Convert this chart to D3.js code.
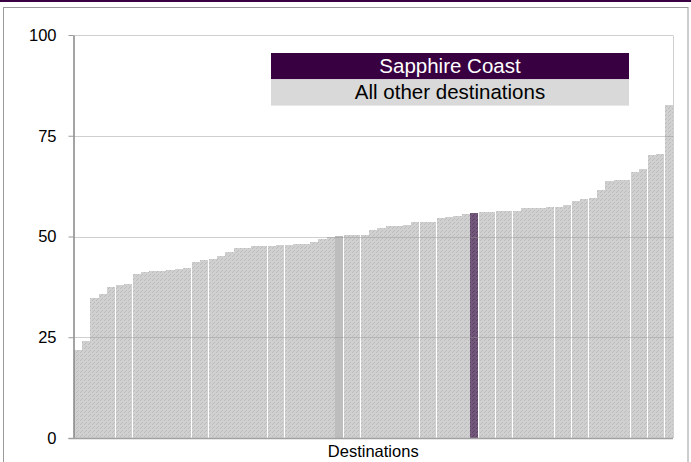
<!DOCTYPE html>
<html>
<head>
<meta charset="utf-8">
<script src="https://cdn.jsdelivr.net/npm/d3@7/dist/d3.min.js"></script>
<style>
  html, body { margin: 0; padding: 0; background: #fff; }
  svg { display: block; font-family: "Liberation Sans", Arial, sans-serif; }
</style>
</head>
<body>
<svg id="chart" width="691" height="462"></svg>
<script>
// ---- data ----
const values = [21.8,24.1,34.7,35.7,37.4,37.9,38.2,40.7,41.1,41.4,41.4,41.7,41.9,42.2,43.7,44.2,
  44.4,45.2,46.2,47.1,47.1,47.6,47.6,47.6,47.9,47.9,48.1,48.1,48.6,49.4,49.9,
  50.2,50.4,50.4,50.4,51.6,52.1,52.6,52.6,52.9,53.6,53.6,53.6,54.6,54.8,55.1,55.6,55.8,
  56.1,56.1,56.3,56.3,56.3,57.1,57.1,57.1,57.3,57.3,57.8,58.8,59.3,59.6,61.5,63.8,64.0,64.0,66.0,66.7,70.2,70.5,82.6];
const categories = values.map((v, i) => "Destination " + (i + 1));
const highlightCategory = "Destination 48";   // Sapphire Coast
const altCategory = "Destination 32";
const yTicks = [0, 25, 50, 75, 100];
const legendLabels = ["Sapphire Coast", "All other destinations"];
const xAxisTitle = "Destinations";

// ---- layout ----
const svg = d3.select("#chart");
const plot = { left: 73.5, right: 673, top: 35, bottom: 438 };

const x = d3.scaleBand().domain(categories).range([plot.left, plot.right]).padding(0);
const y = d3.scaleLinear().domain([0, 100]).range([plot.bottom, plot.top]);

// patterns
const defs = svg.append("defs");
function dotPattern(id, base, dot) {
  const p = defs.append("pattern").attr("id", id).attr("patternUnits", "userSpaceOnUse")
    .attr("width", 4).attr("height", 4);
  p.append("rect").attr("width", 4).attr("height", 4).attr("fill", base);
  p.append("rect").attr("x", 0).attr("y", 0).attr("width", 1).attr("height", 1).attr("fill", dot);
  p.append("rect").attr("x", 2).attr("y", 2).attr("width", 1).attr("height", 1).attr("fill", dot);
  p.append("rect").attr("x", 1).attr("y", 3).attr("width", 1).attr("height", 1).attr("fill", dot);
}
dotPattern("grayDots", "#d0d0d0", "#bcbcbc");
dotPattern("purpleDots", "#72587a", "#5c3f62");

// outer frame
svg.append("rect").attr("x", 0).attr("y", 0).attr("width", 691).attr("height", 2).attr("fill", "#380040");
svg.append("rect").attr("x", 3.5).attr("y", 7.5).attr("width", 684.5).attr("height", 470)
  .attr("fill", "none").attr("stroke", "#9a9a9a");

// bars
svg.append("g").selectAll("rect").data(values).join("rect")
  .attr("x", (d, i) => x(categories[i]))
  .attr("width", x.bandwidth() - 0.3)
  .attr("y", d => y(d))
  .attr("height", d => y(0) - y(d))
  .attr("shape-rendering", "crispEdges")
  .attr("fill", (d, i) => categories[i] === highlightCategory ? "url(#purpleDots)"
        : categories[i] === altCategory ? "#bdbdbd" : "url(#grayDots)");

// gridlines (over bars, semi-transparent)
svg.append("g").selectAll("line").data(yTicks.filter(t => t > 0)).join("line")
  .attr("x1", plot.left).attr("x2", plot.right)
  .attr("y1", d => Math.round(y(d)) + 0.5).attr("y2", d => Math.round(y(d)) + 0.5)
  .attr("stroke", "#8c8c8c").attr("stroke-opacity", 0.42);

// plot right border
svg.append("line").attr("x1", plot.right + 0.5).attr("x2", plot.right + 0.5)
  .attr("y1", Math.round(y(100)) + 0.5).attr("y2", plot.bottom)
  .attr("stroke", "#cfcfcf");

// y axis
const yAxis = svg.append("g").attr("transform", `translate(${plot.left},0)`)
  .call(d3.axisLeft(y).tickValues(yTicks).tickSize(5).tickPadding(12).tickSizeOuter(0));
yAxis.select(".domain").attr("stroke", "#868686").attr("stroke-width", 1.5);
yAxis.selectAll(".tick line").attr("stroke", "#9a9a9a");
yAxis.selectAll(".tick text").attr("font-size", 16.5).attr("fill", "#000")
  .attr("font-family", "Liberation Sans, Arial, sans-serif");

// x axis line
svg.append("line").attr("x1", plot.left - 5).attr("x2", plot.right)
  .attr("y1", Math.round(y(0)) + 0.5).attr("y2", Math.round(y(0)) + 0.5)
  .attr("stroke", "#a0a0a0").attr("stroke-width", 1.5);

svg.append("text").attr("x", (plot.left + plot.right) / 2).attr("y", 457)
  .attr("text-anchor", "middle").attr("font-size", 16.5).attr("fill", "#000")
  .text(xAxisTitle);

// legend
const leg = { x: 271, y: 53, w: 358, h: 26.3 };
const legColors = ["#380040", "#d9d9d9"];
const legText = ["#ffffff", "#000000"];
legendLabels.forEach((lab, i) => {
  svg.append("rect").attr("x", leg.x).attr("y", leg.y + i * leg.h)
    .attr("width", leg.w).attr("height", leg.h).attr("fill", legColors[i]);
  svg.append("text").attr("x", leg.x + leg.w / 2).attr("y", leg.y + i * leg.h + 20)
    .attr("text-anchor", "middle").attr("font-size", 20.5).attr("fill", legText[i])
    .text(lab);
});
</script>
</body>
</html>
